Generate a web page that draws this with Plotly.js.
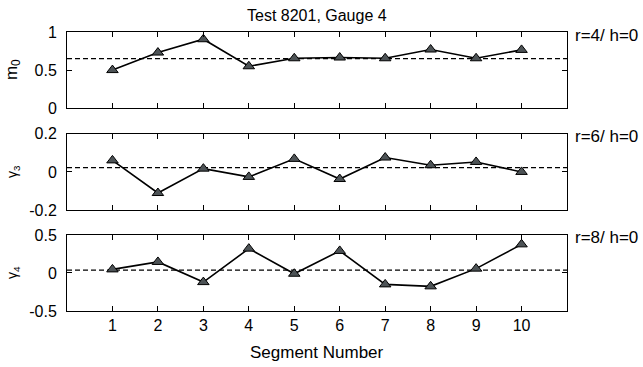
<!DOCTYPE html>
<html>
<head>
<meta charset="utf-8">
<script src="https://cdn.plot.ly/plotly-3.0.1.min.js"></script>
<style>html,body{margin:0;padding:0;background:#fff}#chart{width:643px;height:367px}</style>
</head>
<body>
<div id="chart"></div>
<script>
// Data
var segments = [1, 2, 3, 4, 5, 6, 7, 8, 9, 10];
var m0 = [0.50, 0.73, 0.905, 0.55, 0.655, 0.665, 0.655, 0.77, 0.655, 0.765];
var gamma3 = [0.06, -0.11, 0.017, -0.026, 0.068, -0.037, 0.075, 0.035, 0.052, 0.0];
var gamma4 = [0.047, 0.145, -0.12, 0.32, -0.01, 0.29, -0.15, -0.176, 0.057, 0.376];
var meanLines = [0.65, 0.022, 0.038];
var yRanges = [[0, 1], [-0.2, 0.2], [-0.5, 0.5]];
var yTicks = [[0, 0.5, 1], [-0.2, 0, 0.2], [-0.5, 0, 0.5]];
var yLabels = ['m<sub>0</sub>', 'γ<sub>3</sub>', 'γ<sub>4</sub>'];
var rightLabels = ['r=4/ h=0', 'r=6/ h=0', 'r=8/ h=0'];
var titleText = 'Test 8201, Gauge 4';
var xTitle = 'Segment Number';

var FONT = 'Liberation Sans, Arial, Helvetica, sans-serif';
var series = [m0, gamma3, gamma4];
var domains = [[0.727, 1], [0.361, 0.636], [0, 0.2726]];

var traces = series.map(function (vals, i) {
  var s = i === 0 ? '' : String(i + 1);
  return {
    x: segments, y: vals, type: 'scatter', mode: 'lines+markers',
    xaxis: 'x' + s, yaxis: 'y' + s,
    line: {color: '#000', width: 1.6},
    marker: {symbol: 'triangle-up', size: 10, color: '#4d5356', line: {color: '#000', width: 1}},
    showlegend: false, hoverinfo: 'skip'
  };
});

var layout = {
  width: 643, height: 367,
  margin: {l: 67, r: 76, t: 32, b: 56},
  paper_bgcolor: '#fff', plot_bgcolor: '#fff',
  font: {family: FONT, size: 16, color: '#000'},
  showlegend: false,
  annotations: [],
  shapes: []
};

series.forEach(function (vals, i) {
  var s = i === 0 ? '' : String(i + 1);
  layout['xaxis' + s] = {
    anchor: 'y' + s, domain: [0, 1], range: [0, 11],
    tickvals: segments, ticktext: segments.map(String),
    showticklabels: i === 2,
    ticks: 'inside', ticklen: 5, tickwidth: 1, tickcolor: '#000',
    showline: true, linecolor: '#000', linewidth: 1, mirror: 'ticks',
    showgrid: false, zeroline: false,
    tickfont: {family: FONT, size: 16, color: '#000'}
  };
  layout['yaxis' + s] = {
    anchor: 'x' + s, domain: domains[i], range: yRanges[i],
    tickvals: yTicks[i], ticktext: yTicks[i].map(String),
    ticks: 'inside', ticklen: 5, tickwidth: 1, tickcolor: '#000',
    showline: true, linecolor: '#000', linewidth: 1, mirror: 'ticks',
    showgrid: false, zeroline: false,
    ticklabelstandoff: 6,
    tickfont: {family: FONT, size: 16, color: '#000'}
  };
  layout.shapes.push({
    type: 'line', xref: 'x' + s + ' domain', yref: 'y' + s,
    x0: 0, x1: 1, y0: meanLines[i], y1: meanLines[i],
    line: {color: '#000', width: 1.2, dash: '5px,3px'}, layer: 'below'
  });
  layout.annotations.push({
    xref: 'paper', yref: 'y' + s + ' domain', x: 1.012, y: 1,
    xanchor: 'left', yanchor: 'middle', yshift: -3,
    text: rightLabels[i], showarrow: false,
    font: {family: FONT, size: 17, color: '#000'}
  });
  layout.annotations.push({
    xref: 'paper', yref: 'y' + s + ' domain', x: -0.108, y: 0.5,
    xanchor: 'center', yanchor: 'middle', textangle: -90,
    text: yLabels[i], showarrow: false,
    font: {family: FONT, size: i === 0 ? 17 : 14, color: '#000'}
  });
});

layout.annotations.push({
  xref: 'paper', yref: 'paper', x: 0.5, y: 1, yshift: 17,
  xanchor: 'center', yanchor: 'middle', text: titleText, showarrow: false,
  font: {family: FONT, size: 16, color: '#000'}
});
layout.annotations.push({
  xref: 'paper', yref: 'paper', x: 0.5, y: 0, yshift: -41,
  xanchor: 'center', yanchor: 'middle', text: xTitle, showarrow: false,
  font: {family: FONT, size: 17, color: '#000'}
});

Plotly.newPlot('chart', traces, layout, {staticPlot: true, displayModeBar: false});
</script>
</body>
</html>
